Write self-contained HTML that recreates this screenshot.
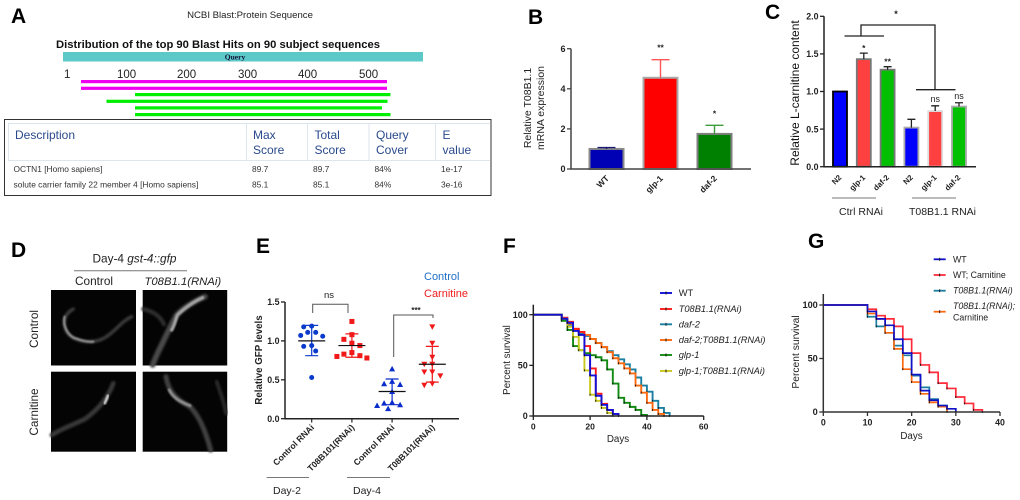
<!DOCTYPE html>
<html lang="en">
<head>
<meta charset="utf-8">
<title>Multi-panel figure</title>
<style>
html,body{margin:0;padding:0;background:#fff;}
body{width:1020px;height:500px;overflow:hidden;}
svg{display:block;filter:blur(0.3px);}
text{font-family:"Liberation Sans",sans-serif;fill:#222;}
.letter{font-size:21px;font-weight:bold;fill:#000;}
.hdr{font-size:12px;fill:#2a4a8c;}
.row{font-size:8.4px;fill:#333;}
.ax{font-weight:bold;font-size:9.7px;}
.cap{font-size:10.5px;}
.leg{font-size:9px;}
.it{font-style:italic;}
</style>
</head>
<body>
<svg id="fig" xmlns="http://www.w3.org/2000/svg" width="1020" height="500" viewBox="0 0 1020 500">
<defs>
<filter id="wb" x="-20%" y="-20%" width="140%" height="140%"><feGaussianBlur stdDeviation="3"/></filter>
<filter id="wb2" x="-20%" y="-20%" width="140%" height="140%"><feGaussianBlur stdDeviation="2.4"/></filter>
</defs>
<rect width="1020" height="500" fill="#fff"/>

<!-- Panel A -->
<g>
<text class="letter" x="11" y="23">A</text>
<text x="250" y="18" text-anchor="middle" font-size="9.6">NCBI Blast:Protein Sequence</text>
<text x="56" y="48" font-size="11" font-weight="bold" textLength="324" lengthAdjust="spacingAndGlyphs" style="fill:#111">Distribution of the top 90 Blast Hits on 90 subject sequences</text>
<rect x="63" y="52" width="360" height="9.5" fill="#5cc8c8"/>
<text x="235" y="59.5" text-anchor="middle" font-size="7.5" font-weight="bold" style="font-family:'Liberation Serif',serif;fill:#113">Query</text>
<g font-size="11.5">
<text x="64" y="78">1</text>
<text x="117" y="78">100</text>
<text x="177" y="78">200</text>
<text x="238" y="78">300</text>
<text x="298" y="78">400</text>
<text x="359" y="78">500</text>
</g>
<rect x="81" y="80" width="306" height="3.2" fill="#f000f0"/>
<rect x="81" y="86.7" width="306" height="3.2" fill="#f000f0"/>
<rect x="135" y="93" width="255.5" height="3.2" fill="#00ee00"/>
<rect x="106.500" y="99.700" width="281" height="3.2" fill="#00ee00"/>
<rect x="135" y="106.300" width="247" height="3.200" fill="#00ee00"/>
<rect x="135" y="113" width="255.500" height="3.200" fill="#00ee00"/>
<rect x="4.500" y="119.500" width="486.500" height="76" fill="#fff" stroke="#333" stroke-width="1"/>
<g stroke="#dde5ef" stroke-width="1" fill="none">
<path d="M490 123.500H8.500V160.500H490"/>
<path d="M246.500 123.500V160.500M307.500 123.500V160.500M369 123.500V160.500M435.500 123.500V160.500"/>
</g>
<text class="hdr" x="15" y="139">Description</text>
<text class="hdr" x="253" y="139">Max<tspan x="253" dy="15">Score</tspan></text>
<text class="hdr" x="314.500" y="139">Total<tspan x="314.500" dy="15">Score</tspan></text>
<text class="hdr" x="376" y="139">Query<tspan x="376" dy="15">Cover</tspan></text>
<text class="hdr" x="442.500" y="139">E<tspan x="442.500" dy="15">value</tspan></text>
<text class="row" x="13.500" y="172">OCTN1 [Homo sapiens]</text>
<text class="row" x="252" y="172">89.7</text>
<text class="row" x="313" y="172">89.7</text>
<text class="row" x="374.500" y="172">84%</text>
<text class="row" x="441" y="172">1e-17</text>
<text class="row" x="13.500" y="187.500">solute carrier family 22 member 4 [Homo sapiens]</text>
<text class="row" x="252" y="187.500">85.1</text>
<text class="row" x="313" y="187.500">85.1</text>
<text class="row" x="374.500" y="187.500">84%</text>
<text class="row" x="441" y="187.500">3e-16</text>
</g>

<!-- Panel B static -->
<g>
<text class="letter" x="528" y="24">B</text>
<text class="ax" transform="translate(531,108) rotate(-90)" text-anchor="middle" style="font-weight:normal;font-size:10.5px">Relative T08B1.1<tspan x="0" dy="13">mRNA expression</tspan></text>
</g>
<g id="chartB"></g>

<!-- Panel C static -->
<g>
<text class="letter" x="765" y="19">C</text>
<text transform="translate(799,93) rotate(-90)" text-anchor="middle" font-size="12" style="fill:#111">Relative L-carnitine content</text>
<path d="M844.500 36H884M861 36V25H935V89.700M916 89.700H955.500" fill="none" stroke="#222" stroke-width="1.300"/>
<text x="896" y="17" text-anchor="middle" font-size="9" font-weight="bold">*</text>
<path d="M832 198H876" stroke="#777" stroke-width="1"/>
<path d="M912 198H956" stroke="#777" stroke-width="1"/>
<text class="cap" x="839" y="215" textLength="44">Ctrl RNAi</text>
<text class="cap" x="909" y="215" textLength="67">T08B1.1 RNAi</text>
</g>
<g id="chartC"></g>

<!-- Panel D -->
<g>
<text class="letter" x="11" y="257">D</text>
<text class="cap" x="92.500" y="262.500" style="font-size:11.800px">Day-4 <tspan class="it">gst-4::gfp</tspan></text>
<path d="M74 270.700H187" stroke="#777" stroke-width="1"/>
<text class="cap" x="75" y="285" style="font-size:11.800px">Control</text>
<text class="cap it" x="144.500" y="285" style="font-size:11.300px">T08B1.1(RNAi)</text>
<text class="cap" transform="translate(38,329) rotate(-90)" text-anchor="middle" style="font-size:11.800px">Control</text>
<text class="cap" transform="translate(38,412) rotate(-90)" text-anchor="middle" style="font-size:11.800px">Carnitine</text>
<rect x="51" y="290" width="85" height="75.500" fill="#040404"/>
<rect x="142.700" y="290" width="84.500" height="75.500" fill="#040404"/>
<rect x="51" y="371.700" width="85" height="80" fill="#040404"/>
<rect x="142.700" y="371.700" width="84.500" height="80" fill="#040404"/>
<g transform="translate(20,285) scale(0.3333)" fill="none" stroke-linecap="round" stroke-linejoin="round">
<path d="M160 72C135 85 125 110 140 140C155 165 200 178 240 165C280 150 300 110 335 95" stroke="#3c3c3c" stroke-width="10" filter="url(#wb)"/>
<path d="M134 95C128 120 140 145 160 158C180 165 200 172 220 170" stroke="#8c8c8c" stroke-width="7" filter="url(#wb2)"/>
<path d="M555 35C520 50 490 70 470 90C450 125 430 170 415 200C408 215 402 228 398 240" stroke="#4a4a4a" stroke-width="17" filter="url(#wb)"/>
<path d="M548 38C520 50 490 72 472 90C465 110 462 125 455 135" stroke="#a2a2a2" stroke-width="10" filter="url(#wb2)"/>
<path d="M370 72C395 78 420 90 432 118" stroke="#2e2e2e" stroke-width="12" filter="url(#wb)"/>
<path d="M280 295C265 335 240 370 195 402C160 420 125 430 96 450" stroke="#383838" stroke-width="14" filter="url(#wb)"/>
<path d="M264 332C260 342 258 348 254 355" stroke="#d0d0d0" stroke-width="8" filter="url(#wb2)"/>
<path d="M438 275C445 320 470 345 510 365C540 395 560 450 572 495" stroke="#404040" stroke-width="15" filter="url(#wb)"/>
<path d="M448 315C460 340 485 352 510 362" stroke="#8e8e8e" stroke-width="9" filter="url(#wb2)"/>
<path d="M590 290C600 320 612 350 618 385" stroke="#2a2a2a" stroke-width="11" filter="url(#wb)"/>
<path d="M560 262H600" stroke="#d8d8d8" stroke-width="5" filter="url(#wb2)"/>
</g>
</g>

<!-- Panel E static -->
<g>
<text class="letter" x="256" y="253">E</text>
<text class="ax" transform="translate(262,360) rotate(-90)" text-anchor="middle">Relative GFP levels</text>
<text class="cap" x="424" y="280" style="fill:#1f6fc6;font-size:11px">Control</text>
<text class="cap" x="424" y="297" style="fill:#f01c1c;font-size:11px">Carnitine</text>
<path d="M312.700 313V304.300H348V313" fill="none" stroke="#555" stroke-width="1"/>
<text x="329" y="298" text-anchor="middle" font-size="9.500">ns</text>
<path d="M393.700 357V315H433V318" fill="none" stroke="#555" stroke-width="1"/>
<text x="416" y="313" text-anchor="middle" font-size="8" font-weight="bold">***</text>
<path d="M266.700 477.500H309" stroke="#777" stroke-width="1"/>
<path d="M347 477.500H390" stroke="#777" stroke-width="1"/>
<text class="cap" x="273" y="494">Day-2</text>
<text class="cap" x="353" y="494">Day-4</text>
</g>
<g id="chartE"></g>

<!-- Panel F static -->
<g>
<text class="letter" x="503" y="253">F</text>
<text class="ax" transform="translate(510,360) rotate(-90)" text-anchor="middle" style="font-weight:normal;font-size:9.800px">Percent survival</text>
<text class="ax" x="618" y="442" text-anchor="middle" style="font-weight:normal;font-size:9.800px">Days</text>
</g>
<g id="chartF"></g>

<!-- Panel G static -->
<g>
<text class="letter" x="808" y="248">G</text>
<text class="ax" transform="translate(799,352) rotate(-90)" text-anchor="middle" style="font-weight:normal;font-size:10.300px">Percent survival</text>
<text class="ax" x="911.500" y="439" text-anchor="middle" style="font-weight:normal;font-size:9.800px">Days</text>
</g>
<g id="chartG"></g>
</svg>

<script>
// ---------- Panel B data ----------
const bCategories = ['WT', 'glp-1', 'daf-2'];
const bValues = [1.0, 4.55, 1.75];
const bErrors = [0.07, 0.9, 0.43];
const bStars = ['', '**', '*'];
const bTicks = [0, 2, 4, 6];

// ---------- Panel C data ----------
const cCategories = ['N2', 'glp-1', 'daf-2', 'N2', 'glp-1', 'daf-2'];
const cValues = [1.0, 1.43, 1.29, 0.52, 0.74, 0.80];
const cErrors = [0, 0.08, 0.04, 0.11, 0.07, 0.05];
const cStars = ['', '*', '**', '', 'ns', 'ns'];
const cTicks = ['0.0', '0.5', '1.0', '1.5', '2.0'];

// ---------- Panel E data ----------
const eCategories = ['Control RNAi', 'T08B101(RNAi)', 'Control RNAi', 'T08B101(RNAi)'];
const eControlDay2 = [1.19, 1.18, 1.11, 1.11, 1.07, 1.06, 0.94, 0.93, 0.87, 0.53];
const eCarnitineDay2 = [1.25, 1.08, 1.02, 0.97, 0.94, 0.85, 0.83, 0.81, 0.80, 0.78];
const eControlDay4 = [0.64, 0.48, 0.45, 0.44, 0.35, 0.21, 0.20, 0.18, 0.17, 0.13];
const eCarnitineDay4 = [1.18, 0.97, 0.79, 0.70, 0.70, 0.60, 0.60, 0.55, 0.45, 0.43];
const eMeans = [1.0, 0.94, 0.35, 0.70];
const eLower = [0.81, 0.79, 0.18, 0.47];
const eUpper = [1.20, 1.09, 0.51, 0.93];
const eTicks = ['0.0', '0.5', '1.0', '1.5'];

// ---------- Panel F data ----------
const fDays = [10,12,14,16,18,20,22,24,26,28,30,32,34,36,38,40,42,44,46,48];
const fWT = [96,92,84,80,60,40,20,11,6,2,0];
const fT08 = [97,93,86,83,69,47,22,12,6,2,0];
const fDaf2 = [95,90,85,81,79,76,72,68,64,60,56,51,46,38,30,24,15,8,3,0];
const fDaf2T08 = [96,91,86,83,80,76,72,68,63,57,52,47,42,30,23,13,6,2,0];
const fGlp1 = [94,85,69,65,62,60,58,55,46,32,18,13,9,6,1,0];
const fGlp1T08 = [96,88,78,65,45,21,15,8,3,0];
const fXTicks = [0, 20, 40, 60];
const fYTicks = [0, 50, 100];

// ---------- Panel G data ----------
const gDays = [10,12,14,16,18,20,22,24,26,28,30,32,34,36];
const gWT = [94,87,81,68,55,35,20,11,6,3,0];
const gWTCarn = [96,90,87,80,68,55,44,37,27,22,14,8,2,0];
const gT08 = [89,80,74,62,53,34,23,12,6,0];
const gT08Carn = [92,87,74,59,40,28,17,9,5,0];
const gXTicks = [0, 10, 20, 30, 40];
const gYTicks = [0, 50, 100];

const NS = 'http://www.w3.org/2000/svg';
function mk(tag, attrs, parent) {
  const el = document.createElementNS(NS, tag);
  for (const k in attrs) el.setAttribute(k, attrs[k]);
  parent.appendChild(el);
  return el;
}
function txt(str, attrs, parent) {
  const el = mk('text', attrs, parent);
  el.textContent = str;
  return el;
}
function drawAxes(g, x0, x1, y0, yTop, yTicks, yFn, color, fs) {
  const xa = mk('line', {x1: x0 - 0.7, x2: x1, y1: y0, y2: y0, stroke: color, 'stroke-width': 1.5}, g);
  
  
  const ya = mk('line', {x1: x0, x2: x0, y1: y0, y2: yTop, stroke: color, 'stroke-width': 1.5}, g);
  
  
  yTicks.forEach(function (t) {
    const y = yFn(parseFloat(t));
    const tk = mk('line', {x1: x0 - 4, x2: x0, y1: y, y2: y, stroke: color, 'stroke-width': 1.3}, g);
    
    
    const lb = txt(String(t), {x: x0 - 5.5, y: y + 3.2, 'text-anchor': 'end', 'font-size': fs, 'font-weight': 'bold'}, g);
    
    
  });
}
function rotLabel(g, str, x, y, fs) {
  const el = txt(str, {transform: 'translate(' + x + ',' + y + ') rotate(-45)', 'text-anchor': 'end', 'font-size': fs, 'font-weight': 'bold'}, g);
  
  
}

// ---------- Draw B ----------
(function () {
  const g = document.getElementById('chartB');
  const y = function (v) { return 169 - v * (169 - 48.7) / 6; };
  const x = function (i) { return 606.5 + i * 54; };
  const fills = ['#0000b4', '#ff0000', '#008000'];
  const strokes = ['#8a8a8a', '#a8a8a8', '#7f7f7f'];
  const errs = ['#1a1a70', '#ff5555', '#3c9c3c'];
  bValues.forEach(function (v, i) {
    const bar = mk('rect', {x: x(i) - 17, y: y(v), width: 34, height: 169 - y(v), fill: fills[i], stroke: strokes[i], 'stroke-width': 2}, g);
    
    
    const e = mk('path', {d: 'M' + x(i) + ' ' + y(v) + 'V' + y(v + bErrors[i]) + 'M' + (x(i) - 9) + ' ' + y(v + bErrors[i]) + 'H' + (x(i) + 9), fill: 'none', stroke: errs[i], 'stroke-width': 1.4}, g);
    
    
    if (bStars[i]) {
      const s = txt(bStars[i], {x: x(i), y: y(v + bErrors[i]) - 9, 'text-anchor': 'middle', 'font-size': 8.5, 'font-weight': 'bold'}, g);
      
      
    }
    rotLabel(g, bCategories[i], x(i) + 3, 179, 8.5);
  });
  drawAxes(g, 571, 751, 169, 48.7, bTicks, y, '#444', 9);
})();

// ---------- Draw C ----------
(function () {
  const g = document.getElementById('chartC');
  const y = function (v) { return 166.7 - v * (166.7 - 16.3) / 2; };
  const x = function (i) { return 840 + i * 23.8; };
  const fills = ['#0000ff', '#ff4040', '#00c000', '#0000ff', '#ff4040', '#00c000'];
  const strokes = ['#000', '#777', '#777', '#aaa', '#ddd', '#aaa'];
  cValues.forEach(function (v, i) {
    const bar = mk('rect', {x: x(i) - 7, y: y(v), width: 14, height: 166.7 - y(v), fill: fills[i], stroke: strokes[i], 'stroke-width': 1.8}, g);
    
    
    if (cErrors[i] > 0) {
      const e = mk('path', {d: 'M' + x(i) + ' ' + y(v) + 'V' + y(v + cErrors[i]) + 'M' + (x(i) - 4) + ' ' + y(v + cErrors[i]) + 'H' + (x(i) + 4), fill: 'none', stroke: '#222', 'stroke-width': 1.3}, g);
      
      
    }
    if (cStars[i]) {
      const isNs = cStars[i] === 'ns';
      const s = txt(cStars[i], {x: x(i), y: y(v + cErrors[i]) - (isNs ? 4 : 2), 'text-anchor': 'middle', 'font-size': isNs ? 9 : 8.5, 'font-weight': isNs ? 'normal' : 'bold'}, g);
      
      
    }
    rotLabel(g, cCategories[i], x(i) + 2, 178, 7.8);
  });
  drawAxes(g, 824, 976, 166.7, 16.3, cTicks, y, '#222', 8.8);
})();

// ---------- Draw E ----------
(function () {
  const g = document.getElementById('chartE');
  const y = function (v) { return 418.7 - v * (418.7 - 302) / 1.5; };
  const x = function (i) { return 311.7 + i * 40.2; };
  const groups = [eControlDay2, eCarnitineDay2, eControlDay4, eCarnitineDay4];
  const colors = ['#0a3acb', '#f01818', '#0a2ccb', '#f01818'];
  const kinds = ['circle', 'square', 'up', 'down'];
  groups.forEach(function (vals, i) {
    const placed = [];
    vals.forEach(function (v) {
      const py = y(v);
      const steps = [0, -4, 4, -8, 8, -11, 11, -15, 15];
      let off = 0;
      for (let s = 0; s < steps.length; s++) {
        const hit = placed.some(function (p) {
          return Math.hypot(p[0] - steps[s], p[1] - py) < 6.5;
        });
        if (!hit) { off = steps[s]; break; }
      }
      placed.push([off, py]);
      const cx = x(i) + off;
      let m;
      if (kinds[i] === 'circle') {
        m = mk('circle', {cx: cx, cy: py, r: 2.5, fill: colors[i]}, g);
      } else if (kinds[i] === 'square') {
        m = mk('rect', {x: cx - 2.5, y: py - 2.5, width: 5, height: 5, fill: colors[i]}, g);
      } else if (kinds[i] === 'up') {
        m = mk('path', {d: 'M' + cx + ' ' + (py - 3) + 'l3 5.5h-6z', fill: colors[i]}, g);
      } else {
        m = mk('path', {d: 'M' + cx + ' ' + (py + 3) + 'l3 -5.5h-6z', fill: colors[i]}, g);
      }
      
      
    });
    const err = mk('path', {d: 'M' + x(i) + ' ' + y(eLower[i]) + 'V' + y(eUpper[i]) + 'M' + (x(i) - 6.5) + ' ' + y(eLower[i]) + 'h13M' + (x(i) - 6.5) + ' ' + y(eUpper[i]) + 'h13', fill: 'none', stroke: colors[i], 'stroke-width': 1.2}, g);
    
    
    const mean = mk('line', {x1: x(i) - 13.5, x2: x(i) + 13.5, y1: y(eMeans[i]), y2: y(eMeans[i]), stroke: '#111', 'stroke-width': 1.2}, g);
    
    
    const tick = mk('line', {x1: x(i), x2: x(i), y1: 418.7, y2: 422.5, stroke: '#222', 'stroke-width': 1.2}, g);
    
    
    rotLabel(g, eCategories[i], x(i) + 3, 428, 8.6);
  });
  drawAxes(g, 285, 459, 418.7, 302, eTicks, y, '#222', 8.8);
})();

// ---------- Survival drawing ----------
function stepPath(days, vals, xf, yf) {
  let d = 'M' + xf(0) + ' ' + yf(100);
  vals.forEach(function (v, i) {
    d += 'H' + xf(days[i]) + 'V' + yf(v);
  });
  return d;
}
function drawSurvival(g, days, vals, color, xf, yf, w) {
  const p = mk('path', {d: stepPath(days, vals, xf, yf), fill: 'none', stroke: color, 'stroke-width': w}, g);
  
  
  vals.forEach(function (v, i) {
    const t = mk('line', {x1: xf(days[i]), x2: xf(days[i]), y1: yf(v) - 1, y2: yf(v) + 1, stroke: '#111', 'stroke-width': 0.9}, g);
    
    
  });
}
function drawXTicks(g, ticks, xf, y0, labelY, color, fs) {
  ticks.forEach(function (t) {
    const k = mk('line', {x1: xf(t), x2: xf(t), y1: y0, y2: y0 + 4, stroke: color, 'stroke-width': 1.3}, g);
    
    
    const l = txt(String(t), {x: xf(t), y: labelY, 'text-anchor': 'middle', 'font-size': fs, 'font-weight': 'bold'}, g);
    
    
  });
}
function legendEntry(g, x1, x2, y, color, w, lineY) {
  const l = mk('line', {x1: x1, x2: x2, y1: lineY, y2: lineY, stroke: color, 'stroke-width': w}, g);
  
  
  const t = mk('line', {x1: (x1 + x2) / 2, x2: (x1 + x2) / 2, y1: lineY - 1.5, y2: lineY + 1.5, stroke: '#111', 'stroke-width': 0.9}, g);
  
  
}

// ---------- Draw F ----------
(function () {
  const g = document.getElementById('chartF');
  const xf = function (v) { return 533.3 + v * (703.7 - 533.3) / 60; };
  const yf = function (v) { return 416 - v * (416 - 314.7) / 100; };
  const series = [
    [fDaf2, '#1a7fa0'], [fDaf2T08, '#ff6a10'], [fT08, '#ff1a1a'],
    [fGlp1, '#118a11'], [fGlp1T08, '#c8c820'], [fWT, '#1010d8']
  ];
  series.forEach(function (s) { drawSurvival(g, fDays, s[0], s[1], xf, yf, 1.9); });
  drawAxes(g, 533.3, 703.7, 416, 304.7, fYTicks, yf, '#222', 9);
  drawXTicks(g, fXTicks, xf, 416, 429.5, '#222', 8.6);
  const names = ['WT', 'T08B1.1(RNAi)', 'daf-2', 'daf-2;T08B1.1(RNAi)', 'glp-1', 'glp-1;T08B1.1(RNAi)'];
  const cols = ['#1010d8', '#ff1a1a', '#1a7fa0', '#ff6a10', '#118a11', '#c8c820'];
  const ys = [293, 309, 324.3, 340, 355, 371];
  names.forEach(function (n, i) {
    legendEntry(g, 660, 672, ys[i], cols[i], 1.9, ys[i]);
    const t = txt(n, {x: 678.7, y: ys[i] + 3.2, 'font-size': 9.3, 'font-style': i === 0 ? 'normal' : 'italic'}, g);
    
    
  });
})();

// ---------- Draw G ----------
(function () {
  const g = document.getElementById('chartG');
  const xf = function (v) { return 823.3 + v * (1000 - 823.3) / 40; };
  const yf = function (v) { return 412 - v * (412 - 305) / 100; };
  const series = [
    [gWTCarn, '#ff2a3a'], [gT08, '#1a7fa0'], [gT08Carn, '#ff6a10'], [gWT, '#1010c8']
  ];
  series.forEach(function (s) { drawSurvival(g, gDays, s[0], s[1], xf, yf, 1.7); });
  drawAxes(g, 823.3, 1000, 412, 294, gYTicks, yf, '#333', 9.2);
  drawXTicks(g, gXTicks, xf, 412, 425.5, '#333', 8.8);
  const cols = ['#1010c8', '#ff2a3a', '#1a7fa0', '#ff6a10'];
  const ys = [259.3, 275, 290.7, 311.7];
  cols.forEach(function (c, i) { legendEntry(g, 933.7, 945.7, ys[i], c, 1.8, ys[i]); });
  const labels = [['WT', 953, 262.3, 'normal'], ['WT; Carnitine', 953, 278, 'normal'], ['T08B1.1(RNAi)', 953, 293.7, 'italic'], ['T08B1.1(RNAi);', 953, 309, 'italic'], ['Carnitine', 953, 320.5, 'normal']];
  labels.forEach(function (l) {
    const t = txt(l[0], {x: l[1], y: l[2], 'font-size': 8.8, 'font-style': l[3]}, g);
    
    
  });
})();
</script>
</body>
</html>
